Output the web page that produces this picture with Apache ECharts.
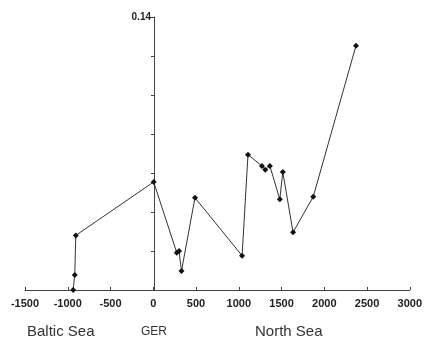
<!DOCTYPE html>
<html><head><meta charset="utf-8">
<script src="https://cdn.jsdelivr.net/npm/echarts@6/dist/echarts.min.js"></script>
<style>html,body{margin:0;padding:0;background:#fff}#c{width:425px;height:340px}</style>
</head><body><div id="c"></div>
<script>
var distances = [-937, -918, -906, 5, 275, 302, 330, 488, 1039, 1108, 1271, 1310, 1364, 1480, 1515, 1635, 1871, 2371];
var values = [0.0, 0.0077, 0.028, 0.0554, 0.0191, 0.020, 0.0097, 0.0473, 0.0176, 0.0694, 0.0636, 0.0617, 0.0636, 0.0465, 0.0605, 0.0296, 0.0478, 0.1253];
var xTicks = [-1500, -1000, -500, 0, 500, 1000, 1500, 2000, 2500, 3000];
var regionLabels = ['Baltic Sea', 'GER', 'North Sea'];

var gridLeft = 25, gridRight = 13, W = 425;
var plotW = W - gridLeft - gridRight;
var xMin = xTicks[0], xMax = xTicks[xTicks.length - 1];
var yOffset = -plotW * (0 - xMin) / (xMax - xMin);

var chart = echarts.init(document.getElementById('c'));
var data = distances.map(function (d, i) { return [d, values[i]]; });
chart.setOption({
  animation: false,
  grid: { left: gridLeft, right: gridRight, top: 17, bottom: 50, containLabel: false },
  xAxis: {
    type: 'value', min: xMin, max: xMax, interval: 500,
    splitLine: { show: false },
    axisLine: { onZero: false, lineStyle: { color: '#444', width: 1 } },
    axisTick: { show: true, inside: true, length: 3, lineStyle: { color: '#444' } },
    axisLabel: { color: '#222', fontWeight: 'bold', fontFamily: 'Liberation Sans, Arial', fontSize: 11, margin: 8,
      formatter: function (v) { return String(v); } }
  },
  yAxis: {
    type: 'value', min: 0, max: 0.14, interval: 0.02, position: 'left', offset: yOffset,
    splitLine: { show: false },
    axisLine: { show: true, onZero: false, lineStyle: { color: '#444', width: 1 } },
    axisTick: { show: true, length: 3, lineStyle: { color: '#444' } },
    axisLabel: {
      color: '#222', fontWeight: 'bold', fontFamily: 'Liberation Sans, Arial', fontSize: 10, margin: 3,
      formatter: function (v) { return Math.abs(v - 0.14) < 1e-9 ? '0.14' : ''; }
    }
  },
  series: [{
    type: 'line', data: data,
    symbol: 'diamond', symbolSize: 6,
    lineStyle: { color: '#333', width: 1 },
    itemStyle: { color: '#111' }
  }],
  graphic: [
    { type: 'text', left: 27, top: 324, style: { text: regionLabels[0], font: '15px "Liberation Sans", Arial', fill: '#333' } },
    { type: 'text', left: 141, top: 326, style: { text: regionLabels[1], font: '12px "Liberation Sans", Arial', fill: '#333' } },
    { type: 'text', left: 255, top: 324, style: { text: regionLabels[2], font: '15px "Liberation Sans", Arial', fill: '#333' } }
  ]
});
</script></body></html>
